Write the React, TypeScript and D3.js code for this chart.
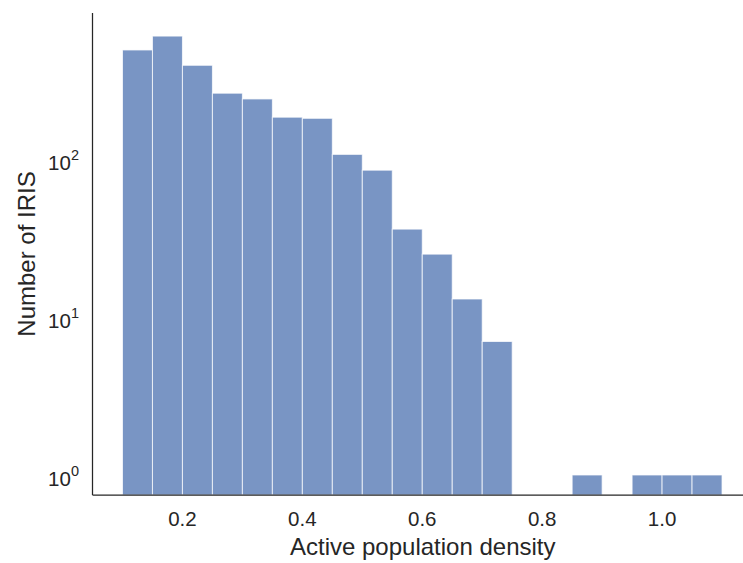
import React from "react";
import * as d3 from "d3";

const binEdgesStart = [0.1, 0.15, 0.2, 0.25, 0.3, 0.35, 0.4, 0.45, 0.5, 0.55, 0.6, 0.65, 0.7, 0.75, 0.8, 0.85, 0.9, 0.95, 1.0, 1.05];
const binWidth = 0.05;
const counts = [490, 600, 392, 261, 240, 184, 181, 107, 85, 36, 25, 13, 7, 0, 0, 1, 0, 1, 1, 1];
const xTicks = [0.2, 0.4, 0.6, 0.8, 1.0];
const yTicks = [1, 10, 100];
const xLabel = "Active population density";
const yLabel = "Number of IRIS";

const W = 743;
const H = 563;
const left = 92.5;
const top = 13;
const bottom = 495;
const right = 752;
const font = "'Liberation Sans', Arial, sans-serif";
const textColor = "#262626";

export default function App() {
  const x = d3.scaleLinear().domain([0.05, 1.15]).range([left, right]);
  const y = d3.scaleLog().domain([0.747, 840]).range([bottom, top]);

  return (
    <svg width={W} height={H} style={{ position: "absolute", left: 0, top: 0, background: "#fff" }}>
      <g>
        {counts.map((c, i) =>
          c > 0 ? (
            <rect
              key={i}
              x={x(binEdgesStart[i])}
              y={y(c)}
              width={x(binEdgesStart[i] + binWidth) - x(binEdgesStart[i])}
              height={bottom - y(c)}
              fill="#4c72b0"
              fillOpacity={0.75}
              stroke="#ffffff"
              strokeOpacity={0.75}
              strokeWidth={1}
            />
          ) : null
        )}
      </g>
      <line x1={left} x2={left} y1={top} y2={bottom} stroke={textColor} strokeWidth={1.25} />
      <line x1={left} x2={right} y1={bottom} y2={bottom} stroke={textColor} strokeWidth={1.25} />
      {xTicks.map((t) => (
        <text key={t} x={x(t)} y={526} textAnchor="middle" fontFamily={font} fontSize={20.5} fill={textColor}>
          {t.toFixed(1)}
        </text>
      ))}
      {yTicks.map((t) => {
        const e = Math.round(Math.log10(t));
        return (
          <text key={t} x={79} y={y(t) + 11} textAnchor="end" fontFamily={font} fontSize={20.5} fill={textColor}>
            10
            <tspan fontSize={14.5} dy={-10}>{e}</tspan>
          </text>
        );
      })}
      <text x={(left + 741) / 2 + 6} y={555} textAnchor="middle" fontFamily={font} fontSize={24} fill={textColor}>
        {xLabel}
      </text>
      <text
        transform={`translate(35,${(top + bottom) / 2}) rotate(-90)`}
        textAnchor="middle"
        fontFamily={font}
        fontSize={24}
        fill={textColor}
      >
        {yLabel}
      </text>
    </svg>
  );
}
